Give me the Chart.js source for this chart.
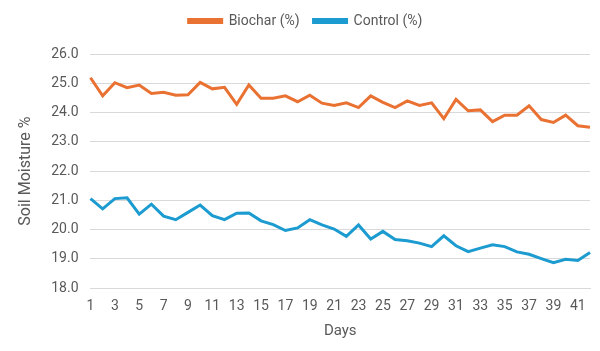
<!DOCTYPE html>
<html>
<head>
<meta charset="utf-8">
<script src="https://cdn.jsdelivr.net/npm/chart.js@4.4.0/dist/chart.umd.min.js"></script>
<style>
  html, body { margin: 0; padding: 0; background: #fff; }
  .chart-container { position: relative; width: 600px; height: 351px; }
</style>
</head>
<body>
<div class="chart-container">
  <canvas id="myChart"></canvas>
</div>
<script>
const days = [];
for (let d = 1; d <= 42; d++) days.push(String(d));

const biochar = [25.19, 24.57, 25.02, 24.85, 24.94, 24.65, 24.69, 24.59, 24.61, 25.03,
  24.81, 24.86, 24.28, 24.94, 24.49, 24.49, 24.57, 24.37, 24.59, 24.32,
  24.24, 24.33, 24.17, 24.57, 24.35, 24.17, 24.40, 24.24, 24.33, 23.79,
  24.45, 24.06, 24.09, 23.69, 23.91, 23.91, 24.23, 23.76, 23.66, 23.91,
  23.55, 23.50];

const control = [21.06, 20.71, 21.06, 21.09, 20.53, 20.87, 20.46, 20.34, 20.59, 20.84,
  20.48, 20.34, 20.56, 20.57, 20.30, 20.17, 19.97, 20.06, 20.34, 20.16,
  20.02, 19.77, 20.16, 19.68, 19.94, 19.66, 19.62, 19.54, 19.42, 19.79,
  19.45, 19.25, 19.37, 19.48, 19.42, 19.24, 19.16, 19.01, 18.87, 18.99,
  18.95, 19.22];

const font = "'Roboto', sans-serif";
const textColor = "#595959";

// extra room under the legend
const legendGap = {
  id: "legendGap",
  beforeInit(chart) {
    const fit = chart.legend.fit;
    chart.legend.fit = function () {
      fit.bind(chart.legend)();
      this.height += 16;
    };
  }
};

const ctx = document.getElementById("myChart");
new Chart(ctx, {
  type: "line",
  data: {
    labels: days,
    datasets: [
      {
        label: "Biochar (%)",
        data: biochar,
        borderColor: "#E97132",
        backgroundColor: "#E97132",
        borderWidth: 3,
        pointRadius: 0,
        fill: false,
        tension: 0
      },
      {
        label: "Control (%)",
        data: control,
        borderColor: "#1B9BCF",
        backgroundColor: "#1B9BCF",
        borderWidth: 3,
        pointRadius: 0,
        fill: false,
        tension: 0
      }
    ]
  },
  plugins: [legendGap],
  options: {
    responsive: true,
    maintainAspectRatio: false,
    animation: false,
    layout: { padding: { left: 16, right: 5, top: 0, bottom: 9 } },
    plugins: {
      legend: {
        position: "top",
        labels: {
          boxWidth: 33,
          boxHeight: 3,
          padding: 14,
          color: textColor,
          font: { family: font, size: 14 }
        }
      },
      tooltip: { enabled: false }
    },
    scales: {
      x: {
        grid: { display: false, drawTicks: false },
        border: { color: "#d9d9d9" },
        ticks: {
          autoSkip: false,
          maxRotation: 0,
          padding: 10,
          color: textColor,
          font: { family: font, size: 14 },
          callback: function (val, i) { return i % 2 === 0 ? this.getLabelForValue(val) : ""; }
        },
        title: {
          display: true,
          text: "Days",
          color: textColor,
          font: { family: font, size: 15 },
          padding: { top: -3, bottom: 2 }
        }
      },
      y: {
        min: 18,
        max: 26,
        grid: { color: "#d9d9d9", drawTicks: false },
        border: { display: false },
        ticks: {
          stepSize: 1,
          padding: 12,
          color: textColor,
          font: { family: font, size: 14 },
          callback: (v) => v.toFixed(1)
        },
        title: {
          display: true,
          text: "Soil Moisture %",
          color: textColor,
          font: { family: font, size: 16 },
          padding: { top: 0, bottom: 4 }
        }
      }
    }
  }
});
</script>
</body>
</html>
